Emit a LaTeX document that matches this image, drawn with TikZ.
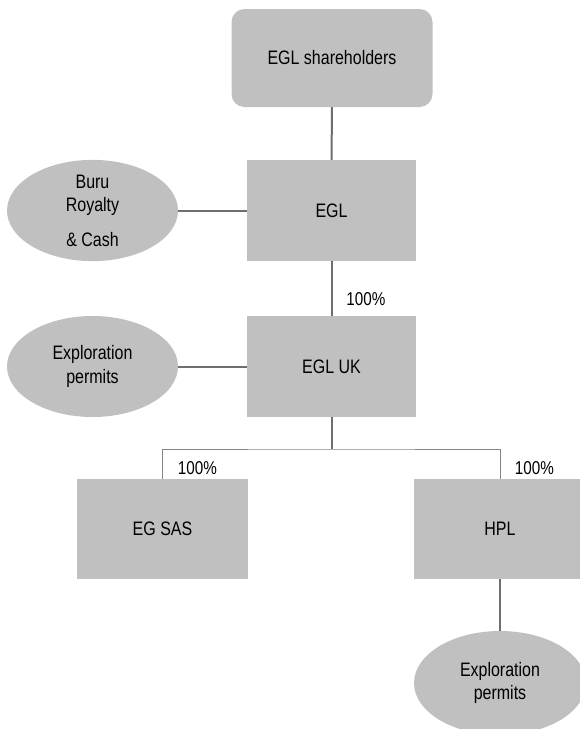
\documentclass[tikz,border=0pt]{standalone}
\usepackage{fontspec}
\setmainfont{Liberation Sans}[FakeStretch=0.82]
\usetikzlibrary{shapes.geometric}
\definecolor{boxgray}{HTML}{C0C0C0}
\definecolor{linegray}{HTML}{6E6E6E}
\begin{document}
\begin{tikzpicture}[x=1pt,y=-1pt,
    entity/.style={fill=boxgray, draw=none, minimum width=169pt, minimum height=101pt,
      inner sep=0pt, font=\fontsize{19.5}{23.5}\selectfont},
    asset/.style={entity, ellipse, minimum width=171pt, align=center},
    link/.style={draw=linegray, line width=2pt},
    branch/.style={draw=linegray!85, line width=1pt},
    pct/.style={inner sep=0pt, font=\fontsize{18.6}{20}\selectfont}]
        \useasboundingbox (0,0) rectangle (579,729);
        \node[entity, rounded corners=13pt, minimum width=201pt, minimum height=98pt] (holders) at (332,58) {EGL shareholders};
        \node[entity] (egl) at (331.5,210.5) {EGL};
        \node[asset, minimum height=99pt] (buru) at (92.5,210.5) {Buru\\Royalty\\[11pt]\& Cash};
        \node[entity] (egluk) at (331.5,366.5) {EGL UK};
        \node[asset] (permitsuk) at (92.5,366.5) {Exploration\\permits};
        \node[entity, minimum width=171pt, minimum height=100pt] (egsas) at (162.5,529) {EG SAS};
        \node[entity, minimum width=172pt, minimum height=100pt] (hpl) at (500,529) {HPL};
        \node[asset, minimum width=172pt, minimum height=104pt] (permitshpl) at (500,683) {Exploration\\permits};
        \coordinate (fork) at (331.5,449);

        \draw[link] (holders) -- (egl);
        \draw[link] (buru) -- (egl);
        \draw[link] (egl) -- (egluk);
        \draw[link] (permitsuk) -- (egluk);
        \draw[link] (egluk) -- (fork);
        \draw[branch] (egsas) |- (fork) -| (hpl);
        \draw[link] (hpl) -- (permitshpl);

        \node[pct] (pctuk) at (366,299) {100\%};
        \node[pct] (pctsas) at (197.5,468) {100\%};
        \node[pct] (pcthpl) at (534.5,468) {100\%};

      \end{tikzpicture}
\end{document}
